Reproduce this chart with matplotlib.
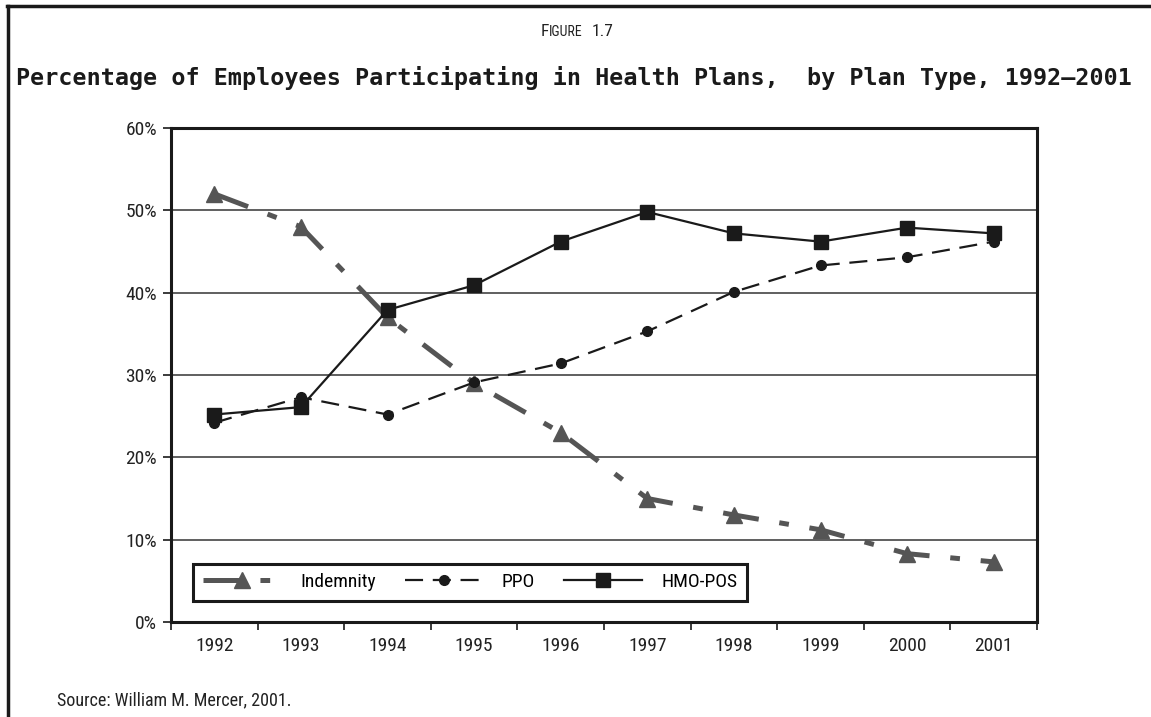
import matplotlib.pyplot as plt
from matplotlib import font_manager
from matplotlib.lines import Line2D

years = ["1992", "1993", "1994", "1995", "1996", "1997", "1998", "1999", "2000", "2001"]
indemnity = [52, 48, 37, 29, 23, 15, 13, 11.2, 8.3, 7.3]
ppo = [24.2, 27.3, 25.2, 29.1, 31.4, 35.3, 40.1, 43.3, 44.3, 46.2]
hmo_pos = [25.2, 26.1, 37.9, 40.9, 46.2, 49.8, 47.2, 46.2, 47.9, 47.2]
y_ticks = [0, 10, 20, 30, 40, 50, 60]

# pick a condensed face if one is there, else Arial-like Liberation Sans
installed = {f.name for f in font_manager.fontManager.ttflist}
narrow = next((n for n in ["Liberation Sans Narrow", "Roboto Condensed", "Open Sans Condensed"]
               if n in installed), "Liberation Sans")
is_narrow = narrow != "Liberation Sans"
fs = 14 if is_narrow else 12.5

plt.rcParams["font.family"] = [narrow, "DejaVu Sans"]
plt.rcParams["lines.scale_dashes"] = False

fig = plt.figure(figsize=(11.51, 7.17), dpi=100)

# outer frame (top and left only)
fig.add_artist(Line2D([7.5 / 1151, 1.0], [1 - 6 / 717, 1 - 6 / 717], color="#1a1a1a", lw=2.5))
fig.add_artist(Line2D([8 / 1151, 8 / 1151], [0, 1 - 6 / 717], color="#1a1a1a", lw=2.5))

# "FIGURE 1.7" in small caps
fig.text(549 / 1151, 1 - 36 / 717, "F", ha="right", va="baseline", fontsize=12.5, color="#222222")
fig.text(549 / 1151, 1 - 36 / 717, "IGURE", ha="left", va="baseline", fontsize=10, color="#222222")
fig.text(592 / 1151, 1 - 36 / 717, "1.7", ha="left", va="baseline", fontsize=12.5, color="#222222")

fig.text(574 / 1151, 1 - 78 / 717,
         "Percentage of Employees Participating in Health Plans,  by Plan Type, 1992\u20132001",
         ha="center", va="center", fontsize=16.8, fontweight="bold", color="#1a1a1a",
         family=["DejaVu Sans Mono"])

ax = fig.add_axes([171 / 1151, 1 - 622 / 717, 866 / 1151, 494 / 717])
x = list(range(len(years)))

ax.plot(x, indemnity, color="#555555", lw=3.6, dashes=(26, 15, 7, 15),
        marker="^", markersize=11, markerfacecolor="#555555", markeredgecolor="#555555",
        label="Indemnity", zorder=3)
ax.plot(x, ppo, color="#1a1a1a", lw=1.6, dashes=(13, 7),
        marker="o", markersize=7, markerfacecolor="#1a1a1a", markeredgecolor="#1a1a1a",
        label="PPO", zorder=4)
ax.plot(x, hmo_pos, color="#1a1a1a", lw=1.6, marker="s", markersize=10.5,
        markerfacecolor="#1a1a1a", markeredgecolor="#1a1a1a", label="HMO-POS", zorder=5)

ax.set_xlim(-0.5, len(years) - 0.5)
ax.set_ylim(0, 60)
ax.set_yticks(y_ticks)
ax.set_yticklabels([f"{v}%" for v in y_ticks])
ax.set_xticks([i - 0.5 for i in range(len(years) + 1)])
ax.set_xticklabels([])
ax.set_xticks(x, minor=True)
ax.set_xticklabels(years, minor=True)
ax.tick_params(axis="x", which="major", direction="out", length=6, width=1.2, color="#1a1a1a")
ax.tick_params(axis="x", which="minor", length=0, pad=11, labelsize=fs, labelcolor="#222222")
ax.tick_params(axis="y", direction="out", length=6, width=1.2, color="#1a1a1a",
               labelsize=fs, labelcolor="#222222", pad=4)

for v in y_ticks[1:-1]:
    ax.axhline(v, color="#444444", lw=1.2, zorder=1)
for s in ax.spines.values():
    s.set_linewidth(2.2)
    s.set_color("#1a1a1a")

leg = ax.legend(loc="lower left", bbox_to_anchor=(0.0254, 0.0425), ncol=3,
                handlelength=4.0, columnspacing=1.5, handletextpad=1.0,
                fontsize=fs, fancybox=False, framealpha=1, borderpad=0.5,
                borderaxespad=0)
leg.get_frame().set_edgecolor("#1a1a1a")
leg.get_frame().set_linewidth(2.2)

fig.text(57 / 1151, 1 - 700 / 717, "Source: William M. Mercer, 2001.", ha="left", va="center",
         fontsize=fs - 1, color="#222222")

fig.savefig("out.png", dpi=100)
